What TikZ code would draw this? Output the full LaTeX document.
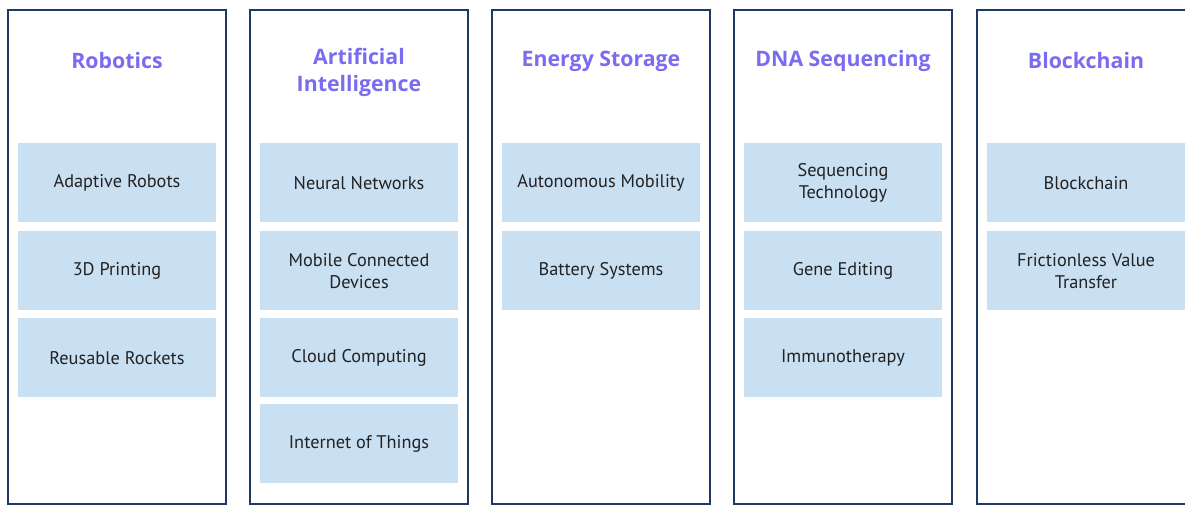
\documentclass[tikz,border=0pt]{standalone}
\usepackage{fontspec}
\setmainfont{PT Sans}
\newfontfamily\titlefont{Open Sans}
\definecolor{navy}{HTML}{1E3A62}
\definecolor{titlec}{HTML}{7B6BF0}
\definecolor{boxc}{HTML}{C9DFF2}
\definecolor{textc}{HTML}{222222}
\tikzset{
  panel/.style={draw=navy, line width=2.6pt, fill=white},
  item/.style={fill=boxc, draw=none, minimum width=198pt, minimum height=79pt, inner sep=0pt,
     align=center, text=textc, font=\fontsize{18.3}{22}\selectfont, anchor=north},
  ttl/.style={text=titlec, font=\titlefont\bfseries\fontsize{21.3}{27}\selectfont, align=center},
}
\begin{document}
\begin{tikzpicture}[x=1pt,y=-1pt]
\useasboundingbox (0,0) rectangle (1185,506);
\fill[white] (0,0) rectangle (1185,506);
% panels
\foreach \i/\x in {1/8,2/250,3/492,4/734,5/977}{
  \draw[panel] (\x,10) rectangle (\x+218,504);
}
% titles
\node[ttl] (t1) at (117,61) {Robotics};
\node[ttl] (t2) at (359,72.5) {Artificial\\Intelligence};
\node[ttl] (t3) at (601,61) {Energy Storage};
\node[ttl] (t4) at (843,61) {DNA Sequencing};
\node[ttl] (t5) at (1086,61) {Blockchain};
% items panel 1
\node[item] (a1) at (117,143) {Adaptive Robots};
\node[item] (a2) at (117,231) {3D Printing};
\node[item] (a3) at (117,318) {Reusable Rockets};
% panel 2
\node[item] (b1) at (359,143) {Neural Networks};
\node[item] (b2) at (359,231) {Mobile Connected\\Devices};
\node[item] (b3) at (359,318) {Cloud Computing};
\node[item] (b4) at (359,404) {Internet of Things};
% panel 3
\node[item] (c1) at (601,143) {Autonomous Mobility};
\node[item] (c2) at (601,231) {Battery Systems};
% panel 4
\node[item] (d1) at (843,143) {Sequencing\\Technology};
\node[item] (d2) at (843,231) {Gene Editing};
\node[item] (d3) at (843,318) {Immunotherapy};
% panel 5
\node[item] (e1) at (1086,143) {Blockchain};
\node[item] (e2) at (1086,231) {Frictionless Value\\Transfer};
\end{tikzpicture}
\end{document}
